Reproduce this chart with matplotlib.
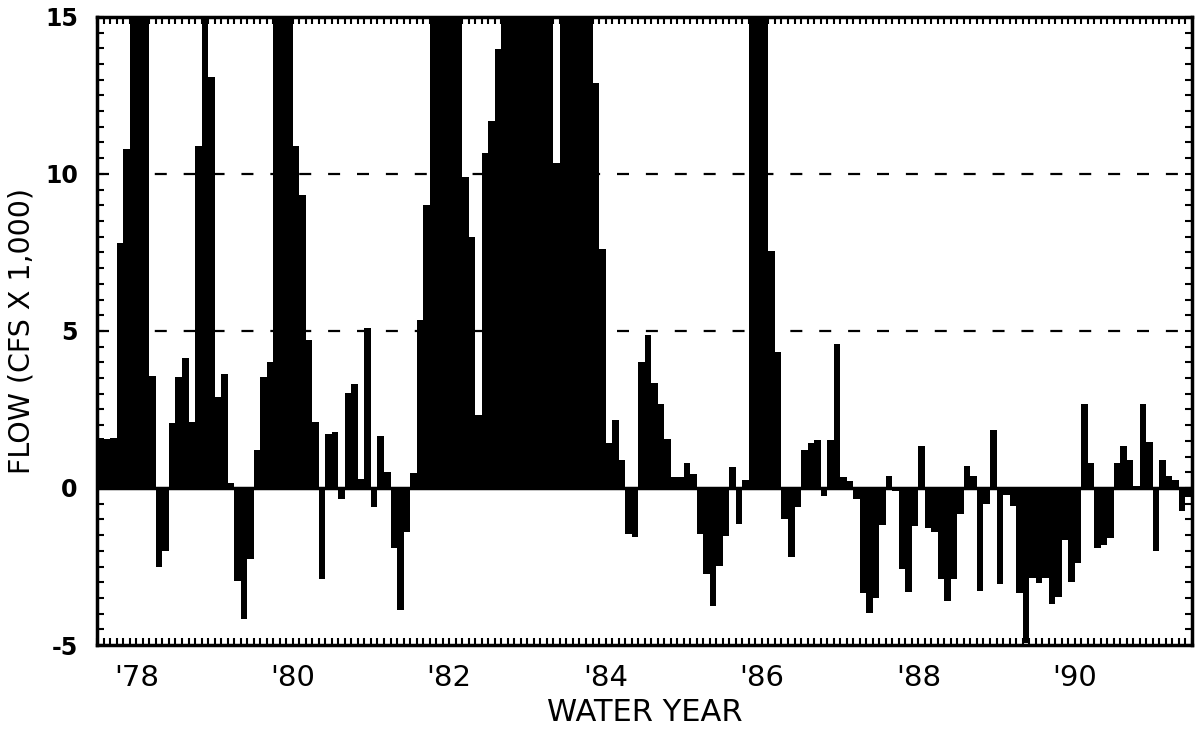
import matplotlib
matplotlib.use('Agg')
import matplotlib.pyplot as plt
import numpy as np
from matplotlib.ticker import MultipleLocator

# Monthly flow (cfs x 1,000), Oct 1977 .. Sep 1991, one list per water year.
# Bars running off the top of the chart are entered as 16.
wy78 = [1.6, 1.55, 1.6, 7.8, 10.8, 16, 16, 16, 3.55, -2.5, -2.0, 2.06]
wy79 = [3.53, 4.15, 2.1, 10.9, 16, 13.1, 2.9, 3.64, 0.16, -2.96, -4.18, -2.27]
wy80 = [1.21, 3.53, 4.0, 16, 16, 16, 10.9, 9.33, 4.72, 2.1, -2.9, 1.72]
wy81 = [1.78, -0.35, 3.02, 3.32, 0.29, 5.1, -0.62, 1.67, 0.5, -1.9, -3.9, -1.4]
wy82 = [0.47, 5.36, 9.0, 16, 16, 16, 16, 16, 9.9, 7.98, 2.33, 10.67]
wy83 = [11.7, 13.97, 16, 16, 16, 16, 16, 16, 16, 16, 10.35, 16]
wy84 = [16, 16, 16, 16, 12.9, 7.6, 1.43, 2.15, 0.9, -1.47, -1.57, 4.0]
wy85 = [4.86, 3.35, 2.68, 1.56, 0.34, 0.34, 0.8, 0.43, -1.47, -2.74, -3.76, -2.48]
wy86 = [-1.52, 0.66, -1.15, 0.26, 16, 16, 16, 7.55, 4.33, -1.0, -2.2, -0.6]
wy87 = [1.2, 1.43, 1.53, -0.25, 1.53, 4.57, 0.34, 0.23, -0.35, -3.33, -3.97, -3.5]
wy88 = [-1.17, 0.39, -0.09, -2.59, -3.3, -1.2, 1.35, -1.26, -1.41, -2.9, -3.6, -2.9]
wy89 = [-0.83, 0.7, 0.37, -3.27, -0.5, 1.86, -3.05, -0.21, -0.56, -3.35, -4.95, -2.87]
wy90 = [-3.03, -2.87, -3.69, -3.46, -1.65, -2.98, -2.4, 2.66, 0.8, -1.91, -1.8, -1.6]
wy91 = [0.8, 1.35, 0.88, 0.07, 2.66, 1.46, -2.02, 0.88, 0.39, 0.27, -0.74, -0.3]

year_labels = ["'78", "'80", "'82", "'84", "'86", "'88", "'90"]
y_ticks = [-5, 0, 5, 10, 15]
dashed_levels = [5, 10]

flow = np.array(wy78 + wy79 + wy80 + wy81 + wy82 + wy83 + wy84 +
                wy85 + wy86 + wy87 + wy88 + wy89 + wy90 + wy91)
months = np.arange(len(flow)) + 0.5

fig = plt.figure(figsize=(12.01, 7.33), dpi=100)
ax = fig.add_axes([0.081, 0.12, 0.9115, 0.857])

for lev in dashed_levels:
    ax.axhline(lev, color='black', lw=1.6, ls=(0, (5.4, 7.6)), zorder=1)
ax.bar(months, flow, width=1.0, color='black', edgecolor='none', zorder=2)
ax.axhline(0, color='black', lw=2.5, zorder=3)

ax.set_xlim(0, len(flow))
ax.set_ylim(-5, 15)

# labels sit in the middle of every second water year
ax.set_xticks(np.arange(len(year_labels)) * 24 + 6)
ax.set_xticklabels(year_labels, fontsize=21)
ax.xaxis.set_minor_locator(MultipleLocator(1))
ax.set_yticks(y_ticks)
ax.set_yticklabels([str(v) for v in y_ticks], fontsize=17, fontweight='bold')
ax.yaxis.set_minor_locator(MultipleLocator(0.5))

ax.tick_params(axis='both', which='both', direction='in',
               top=True, right=True, width=1.5, length=5)
ax.tick_params(axis='x', which='major', pad=14)
ax.tick_params(axis='y', which='major', pad=14)

for s in ax.spines.values():
    s.set_linewidth(2.5)

ax.set_xlabel('WATER YEAR', fontsize=22, labelpad=4)
ax.set_ylabel('FLOW (CFS X 1,000)', fontsize=20.5)
ax.yaxis.set_label_coords(-0.056, 0.5)

fig.savefig('out.png', dpi=100)
